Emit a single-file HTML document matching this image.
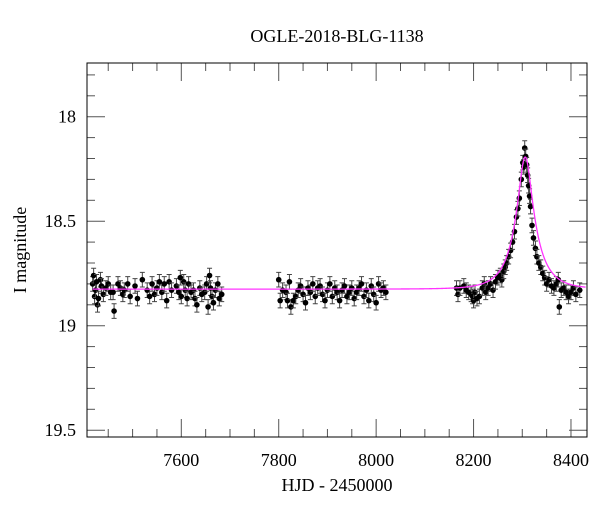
<!DOCTYPE html>
<html><head><meta charset="utf-8"><style>
body{margin:0;background:#fff}
svg text{font-family:"Liberation Serif",serif;fill:#000}
</style></head><body>
<svg id="c" width="600" height="512" xmlns="http://www.w3.org/2000/svg">
<text x="337" y="42" font-size="18" text-anchor="middle">OGLE-2018-BLG-1138</text>
<text x="337" y="491" font-size="18" text-anchor="middle">HJD - 2450000</text>
<text transform="translate(26,250) rotate(-90)" font-size="18" text-anchor="middle">I magnitude</text>
<g id="ax"></g><g id="pts"></g><g id="mdl"></g>
<rect x="87" y="63" width="500" height="374" fill="none" stroke="#000" stroke-width="1"/>
</svg>
<script>
const xTicks=[7600,7800,8000,8200,8400];
const yTicks=[18,18.5,19,19.5];
const hjd=[7418,7420,7422,7424,7426,7428,7430,7434,7436,7440,7445,7450,7455,7460,7462,7470,7475,7480,7483,7490,7495,7505,7510,7520,7530,7535,7540,7545,7550,7555,7560,7565,7570,7575,7580,7590,7595,7598,7600,7605,7608,7612,7615,7620,7625,7628,7632,7638,7642,7648,7652,7655,7658,7660,7663,7666,7670,7675,7678,7683,
7800,7803,7808,7815,7818,7822,7825,7830,7835,7840,7845,7850,7855,7860,7865,7870,7875,7880,7885,7890,7895,7900,7905,7910,7915,7920,7925,7930,7935,7940,7945,7950,7955,7960,7965,7970,7975,7980,7985,7990,7995,8000,8005,8010,8015,8020,
8165,8168,8172,8180,8185,8190,8195,8198,8200,8203,8207,8212,8218,8222,8225,8230,8235,8240,8245,8250,8255,8258,8262,8265,8268,8272,8276,8280,8284,8288,8291,8294,8298,8301,8303,8305,8307,8309,8311,8313,8315,8317,8320,8323,8327,8330,8334,8338,8342,8346,8350,8355,8360,8365,8370,8374,8376,8380,8385,8390,8395,8400,8405,8410,8418];
const mag=[18.80,18.76,18.86,18.83,18.79,18.90,18.87,18.78,18.81,18.85,18.82,18.80,18.84,18.84,18.93,18.80,18.82,18.85,18.83,18.80,18.86,18.81,18.87,18.78,18.83,18.86,18.80,18.85,18.82,18.79,18.84,18.80,18.88,18.79,18.83,18.81,18.84,18.77,18.86,18.79,18.83,18.87,18.80,18.84,18.83,18.87,18.90,18.82,18.85,18.84,18.80,18.91,18.76,18.82,18.86,18.89,18.83,18.80,18.87,18.85,
18.78,18.88,18.83,18.84,18.88,18.79,18.91,18.88,18.86,18.83,18.81,18.85,18.89,18.82,18.84,18.80,18.86,18.82,18.81,18.85,18.88,18.83,18.80,18.86,18.82,18.84,18.88,18.83,18.81,18.86,18.84,18.82,18.87,18.84,18.82,18.80,18.86,18.83,18.88,18.81,18.85,18.89,18.80,18.83,18.82,18.84,
18.82,18.85,18.82,18.81,18.83,18.84,18.85,18.86,18.88,18.84,18.87,18.86,18.82,18.80,18.84,18.82,18.80,18.83,18.79,18.77,18.76,18.78,18.74,18.72,18.70,18.67,18.64,18.60,18.55,18.48,18.44,18.39,18.30,18.22,18.24,18.15,18.19,18.23,18.28,18.33,18.38,18.43,18.52,18.58,18.63,18.67,18.70,18.72,18.75,18.77,18.80,18.78,18.81,18.82,18.80,18.78,18.91,18.83,18.82,18.84,18.86,18.84,18.82,18.85,18.83];
const errBar=0.035;
const baseMag=18.825, t0=8306, tE=48, u0=0.3, fs=0.323;
const X=t=>181.3+(t-7600)*0.4871;
const Y=m=>116.7+(m-18)*209;
const NS="http://www.w3.org/2000/svg";
function mk(tag,at,parent){const e=document.createElementNS(NS,tag);for(const k in at)e.setAttribute(k,at[k]);parent.appendChild(e);return e;}
const ax=document.getElementById('ax');
for(let t=7450;t<=8430;t+=50){const maj=t%200===0;const L=maj?18:8;const x=X(t);
 const a=mk('line',{x1:x,x2:x,y1:437,y2:437-L,stroke:'#555'},ax);
 
 
 const b=mk('line',{x1:x,x2:x,y1:63,y2:63+L,stroke:'#555'},ax);
 
 }
xTicks.forEach(t=>{const e=mk('text',{x:X(t),y:466,'font-size':18,'text-anchor':'middle'},ax);e.textContent=t;
 
 });
for(let i=0;i<=17;i++){const m=17.8+i*0.1;const y=Y(m);if(y<63||y>437)continue;const maj=Math.abs(m*2-Math.round(m*2))<1e-6;const L=maj?18:8;
 const a=mk('line',{x1:87,x2:87+L,y1:y,y2:y,stroke:'#555'},ax);
 
 
 const b=mk('line',{x1:587,x2:587-L,y1:y,y2:y,stroke:'#555'},ax);
 
 }
yTicks.forEach(m=>{const e=mk('text',{x:76,y:Y(m)+6,'font-size':18,'text-anchor':'end'},ax);e.textContent=m;
 
 });
const pts=document.getElementById('pts');
hjd.forEach((t,i)=>{const x=X(t),y=Y(mag[i]),d=errBar*209;
 const g=mk('g',{},pts);
 
 
 mk('path',{d:`M${x},${y-d}V${y+d}M${x-2.5},${y-d}h5M${x-2.5},${y+d}h5`,stroke:'#444','stroke-width':1,fill:'none'},g);
 mk('circle',{cx:x,cy:y,r:2.8,fill:'#000'},g);});
let d='';
for(let t=7418;t<=8430;t+=0.5){const tau=(t-t0)/tE;const u=Math.sqrt(u0*u0+tau*tau);const A=(u*u+2)/(u*Math.sqrt(u*u+4));
 const m=baseMag-2.5*Math.log10(fs*A+1-fs);d+=(d?'L':'M')+X(t).toFixed(2)+','+Y(m).toFixed(2);}
const ml=mk('path',{d:d,stroke:'#ff33ff','stroke-width':1.3,fill:'none'},document.getElementById('mdl'));


</script>
</body></html>
